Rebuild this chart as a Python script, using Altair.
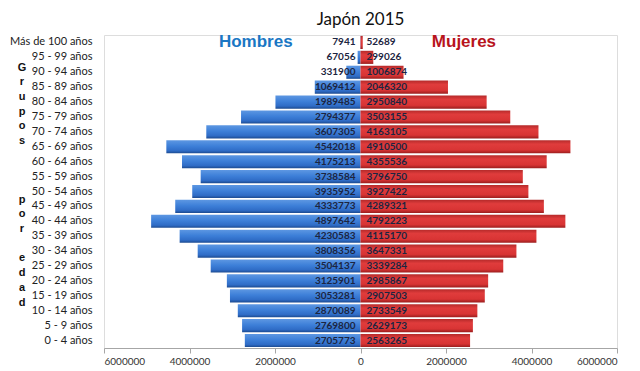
import altair as alt
import pandas as pd

grupos = ["Más de 100 años", "95 - 99 años", "90 - 94 años", "85 - 89 años",
          "80 - 84 años", "75 - 79 años", "70 - 74 años", "65 - 69 años",
          "60 - 64 años", "55 - 59 años", "50 - 54 años", "45 - 49 años",
          "40 - 44 años", "35 - 39 años", "30 - 34 años", "25 - 29 años",
          "20 - 24 años", "15 - 19 años", "10 - 14 años", "5 - 9 años", "0 - 4 años"]
hombres = [7941, 67056, 331900, 1069412, 1989485, 2794377, 3607305, 4542018,
           4175213, 3738584, 3935952, 4333773, 4897642, 4230583, 3808356,
           3504137, 3125901, 3053281, 2870089, 2769800, 2705773]
mujeres = [52689, 299026, 1006874, 2046320, 2950840, 3503155, 4163105, 4910500,
           4355536, 3796750, 3927422, 4289321, 4792223, 4115170, 3647331,
           3339284, 2985867, 2907503, 2733549, 2629173, 2563265]
ticks = [-6000000, -4000000, -2000000, 0, 2000000, 4000000, 6000000]
titulo_eje = ["G", "r", "u", "p", "o", "s", "", "", "", "p", "o", "r", "", "e", "d", "a", "d"]

rows = []
for g, h, m in zip(grupos, hombres, mujeres):
    rows.append({"grupo": g, "sexo": "Hombres", "valor": -h, "label": str(h)})
    rows.append({"grupo": g, "sexo": "Mujeres", "valor": m, "label": str(m)})
df = pd.DataFrame(rows)

ann = pd.DataFrame({"grupo": [grupos[0], grupos[0]],
                    "valor": [-2450000, 2420000],
                    "texto": ["Hombres", "Mujeres"],
                    "sexo": ["Hombres", "Mujeres"]})

letras = pd.DataFrame({"i": list(range(len(titulo_eje))), "letra": titulo_eje})
letras = letras[letras["letra"] != ""]

yscale = alt.Scale(domain=grupos, paddingInner=0.12, paddingOuter=0.06)
xscale = alt.Scale(domain=[-6000000, 6000000], nice=False)

y_enc = alt.Y("grupo:N", sort=grupos, scale=yscale,
              axis=alt.Axis(title=None, domain=False, ticks=False, labelPadding=12,
                            labelFont="Lato", labelFontSize=11, labelColor="#222222"))
x_enc = alt.X("valor:Q", scale=xscale,
              axis=alt.Axis(title=None, values=ticks, grid=False,
                            labelExpr="format(abs(datum.value), 'd')",
                            domainColor="#a6a6a6", tickColor="#a6a6a6", tickSize=5,
                            labelPadding=3, labelFont="Lato", labelFontSize=10,
                            labelColor="#333333"))

blue = alt.LinearGradient(gradient="linear", x1=0, x2=0, y1=0, y2=1, stops=[
    alt.GradientStop(offset=0, color="#5d97e2"),
    alt.GradientStop(offset=0.45, color="#3d7fd8"),
    alt.GradientStop(offset=0.8, color="#2f6cc6"),
    alt.GradientStop(offset=1, color="#1c4a8f")])
red = alt.LinearGradient(gradient="linear", x1=0, x2=0, y1=0, y2=1, stops=[
    alt.GradientStop(offset=0, color="#b52a2a"),
    alt.GradientStop(offset=0.3, color="#e03c3c"),
    alt.GradientStop(offset=0.75, color="#d83434"),
    alt.GradientStop(offset=1, color="#9a1e1e")])

base = alt.Chart(df)
bars_h = base.transform_filter(alt.datum.sexo == "Hombres").mark_bar(color=blue).encode(x=x_enc, y=y_enc)
bars_m = base.transform_filter(alt.datum.sexo == "Mujeres").mark_bar(color=red).encode(x=x_enc, y=y_enc)

txt_h = base.transform_filter(alt.datum.sexo == "Hombres").mark_text(
    align="right", dx=-5, font="Lato", fontSize=10, fontWeight="bold", color="#1c2541"
).encode(x=alt.datum(0, scale=xscale), y=alt.Y("grupo:N", sort=grupos), text="label:N")
txt_m = base.transform_filter(alt.datum.sexo == "Mujeres").mark_text(
    align="left", dx=6, font="Lato", fontSize=10, fontWeight="bold", color="#1c2541"
).encode(x=alt.datum(0, scale=xscale), y=alt.Y("grupo:N", sort=grupos), text="label:N")

ann_chart = alt.Chart(ann).mark_text(font="Liberation Sans", fontSize=17, fontWeight="bold").encode(
    x=alt.X("valor:Q"), y=alt.Y("grupo:N", sort=grupos), text="texto:N",
    color=alt.Color("sexo:N", scale=alt.Scale(domain=["Hombres", "Mujeres"],
                                               range=["#1a77c4", "#b8141c"]), legend=None))

ytitle = alt.Chart(letras).mark_text(
    font="Liberation Sans", fontSize=11, fontWeight="bold", color="#111111",
    align="center", baseline="middle"
).encode(x=alt.value(-82),
         y=alt.Y("i:Q", scale=alt.Scale(domain=[0, 16], range=[32.5, 267.5]), axis=None),
         text="letra:N")

main = alt.layer(bars_h, bars_m, txt_h, txt_m, ann_chart)
chart = alt.layer(main, ytitle).resolve_scale(y="independent").properties(
    width=513, height=313,
    title=alt.TitleParams("Japón 2015", font="Lato", fontSize=17, fontWeight="normal",
                          color="#111111", anchor="middle", offset=4),
    autosize=alt.AutoSizeParams(type="none"),
    padding={"left": 96, "top": 27, "right": 15, "bottom": 20},
).configure_view(stroke=None).configure(background="white")

chart.save("out.html", embed_options={"renderer": "svg", "actions": False})
